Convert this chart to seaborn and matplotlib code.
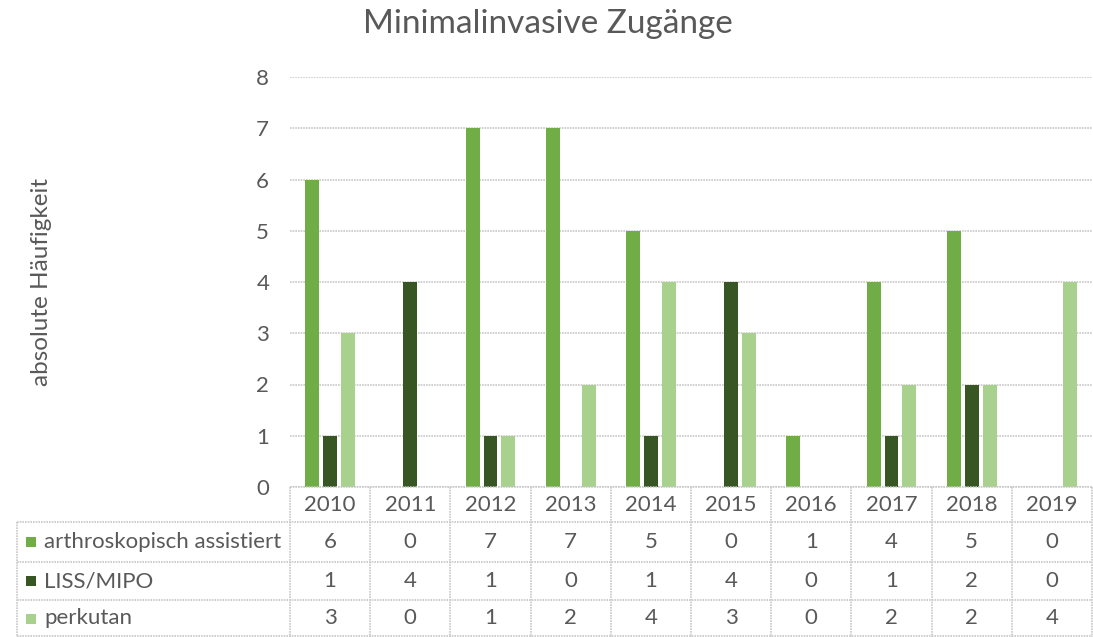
import numpy as np
import pandas as pd
import seaborn as sns
import matplotlib.pyplot as plt
from matplotlib.lines import Line2D
from matplotlib.patches import Rectangle

years = ["2010", "2011", "2012", "2013", "2014", "2015", "2016", "2017", "2018", "2019"]
series = ["arthroskopisch assistiert", "LISS/MIPO", "perkutan"]
arthro = [6, 0, 7, 7, 5, 0, 1, 4, 5, 0]
liss = [1, 4, 1, 0, 1, 4, 0, 1, 2, 0]
perkutan = [3, 0, 1, 2, 4, 3, 0, 2, 2, 4]
colors = ["#70AD47", "#375623", "#A9D18E"]

df = pd.DataFrame({
    "Jahr": years * 3,
    "Typ": [s for s in series for _ in years],
    "Wert": arthro + liss + perkutan,
})

sns.set_style("white")
plt.rcParams["font.family"] = ["Lato", "DejaVu Sans"]
txt = "#595959"
grid_c = "#C8C8C8"
fs = 16

W, H = 1093, 637
fig = plt.figure(figsize=(W / 100, H / 100), dpi=100)


def fx(x):
    return x / W


def fy(y):
    return 1 - y / H


ax_l, ax_r, ax_b, ax_t = 290, 1092, 487, 77
ax = fig.add_axes([fx(ax_l), fy(ax_b), fx(ax_r - ax_l), fy(ax_t) - fy(ax_b)])

sns.barplot(data=df, x="Jahr", y="Wert", hue="Typ", palette=colors,
            width=0.67, gap=0.22, ax=ax, legend=False, zorder=3,
            linewidth=0, saturation=1)
ax.set_ylim(0, 8)
ax.set_xlim(-0.5, 9.5)
ax.set_yticks(range(0, 9))
ax.yaxis.grid(True, color=grid_c, linewidth=1.2, linestyle=(0, (1, 0.6)), zorder=0)
for s in ax.spines.values():
    s.set_visible(False)
ax.set_xticks([])
ax.set_xlabel("")
ax.set_ylabel("")
ax.tick_params(axis="y", length=0, pad=15, labelsize=fs, labelcolor=txt)

fig.text(fx(548), fy(24), "Minimalinvasive Zugänge", ha="center", va="center",
         fontsize=24, color=txt)
fig.text(fx(42), fy(282), "absolute Häufigkeit", ha="center", va="center",
         rotation=90, fontsize=17.5, color=txt)

# data table
rows_y = [487, 522, 562, 600, 637]
cw = (ax_r - ax_l) / len(years)
ls = dict(color=grid_c, linewidth=1.2, linestyle=(0, (1, 0.6)))


def hline(y, x0, x1):
    fig.add_artist(Line2D([fx(x0), fx(x1)], [fy(y), fy(y)], **ls))


def vline(x, y0, y1):
    fig.add_artist(Line2D([fx(x), fx(x)], [fy(y0), fy(y1)], **ls))


hline(487, ax_l, ax_r)
for y in rows_y[1:4]:
    hline(y, 17, ax_r)
hline(636, 17, ax_r)
for k in range(len(years) + 1):
    vline(ax_l + k * cw, 487, 637)
vline(17, 522, 637)

for k, yr in enumerate(years):
    fig.text(fx(ax_l + (k + 0.5) * cw), fy(505), yr, ha="center", va="center",
             fontsize=fs, color=txt)

values = [arthro, liss, perkutan]
for r, (name, vals, c) in enumerate(zip(series, values, colors)):
    yc = (rows_y[r + 1] + rows_y[r + 2]) / 2
    fig.add_artist(Rectangle((fx(26), fy(yc + 5)), fx(10), fy(yc - 5) - fy(yc + 5),
                             facecolor=c, edgecolor="none"))
    fig.text(fx(44), fy(yc), name, ha="left", va="center", fontsize=fs, color=txt)
    for k, v in enumerate(vals):
        fig.text(fx(ax_l + (k + 0.5) * cw), fy(yc), str(v), ha="center", va="center",
                 fontsize=fs, color=txt)

fig.savefig("out.png", dpi=100)
